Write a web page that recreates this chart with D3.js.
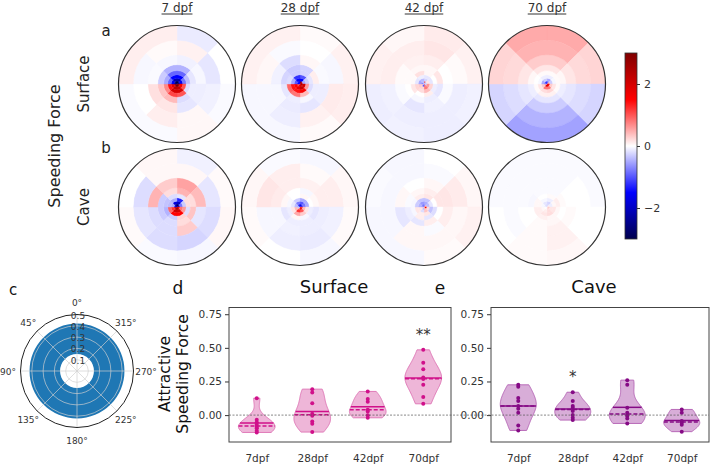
<!DOCTYPE html>
<html><head><meta charset="utf-8">
<script src="https://cdn.jsdelivr.net/npm/d3@7"></script>
<style>body{margin:0;background:#fff;} svg{display:block;font-family:"DejaVu Sans",sans-serif;}</style>
</head><body><svg id="c" width="720" height="475"></svg>
<script>
// ---------- DATA ----------
const ages = ["7 dpf", "28 dpf", "42 dpf", "70 dpf"];
const rows = ["Surface", "Cave"];
const ringEdges = [0, 0.05, 0.1, 0.16, 0.23, 0.33, 0.5, 0.75, 1.0];
// each map: rings inner->outer, 8 sectors clockwise from north
const surface7 = [
  [-3, -2.5, 2.5, 3, 3, 2.5, -2.5, -3],
  [-2.2, -1.6, 1.6, 2.2, 2.3, 1.8, -1.6, -2.2],
  [-1.5, -0.8, 1.0, 2.0, 2.0, 1.4, -0.9, -1.5],
  [-0.9, -0.4, -0.2, 1.0, 1.1, 0.7, -0.5, -0.9],
  [-0.45, -0.15, -0.1, -0.2, 0.4, 0.35, -0.3, -0.45],
  [-0.08, -0.05, -0.1, -0.15, 0.15, 0.18, -0.03, -0.05],
  [0.08, -0.15, -0.08, 0.05, 0.1, 0.0, -0.05, 0.03],
  [-0.12, 0.0, -0.03, 0.05, -0.03, -0.03, 0.1, 0.1]
];
const surface28 = [
  [2.8, 2.0, 2.5, 2.0, 1.5, 1.0, -1.5, -1.5],
  [-1.5, -0.5, 2.0, 2.2, 1.8, 1.5, -1.0, -1.5],
  [-1.0, -0.3, 0.6, 1.6, 1.4, 1.4, -0.5, -1.2],
  [-0.25, -0.15, -0.2, 0.4, 0.8, 0.9, -0.2, -0.3],
  [-0.25, 0.1, -0.1, -0.05, -0.1, -0.15, -0.25, -0.3],
  [0.05, -0.03, -0.1, -0.15, -0.12, -0.05, -0.08, -0.2],
  [0.0, -0.05, 0.12, 0.08, -0.1, -0.05, 0.05, -0.03],
  [0.03, 0.08, 0.1, 0.03, -0.05, -0.05, 0.08, 0.08]
];
const surface42 = [
  [1.0, -0.3, -0.3, 0.8, -1.0, 0.3, -0.7, -0.4],
  [-0.25, 0.15, 0.6, 0.8, 0.25, 0.3, -0.5, -0.4],
  [-0.15, -0.15, 0.25, 0.4, 0.2, 0.25, -0.15, -0.1],
  [0.05, 0.0, -0.1, 0.1, 0.0, 0.15, 0.03, 0.18],
  [0.05, 0.15, -0.15, -0.1, -0.05, 0.0, 0.03, 0.05],
  [0.1, 0.0, -0.03, -0.08, -0.15, -0.03, 0.03, 0.08],
  [0.15, 0.03, -0.1, -0.1, -0.1, -0.08, 0.1, 0.1],
  [0.12, 0.08, -0.08, -0.1, -0.08, -0.1, 0.08, 0.05]
];
const surface70 = [
  [-0.8, 0.5, 1.5, 1.8, 1.8, 0.5, -0.8, -1.2],
  [-0.5, -0.3, 0.3, 0.8, 0.8, 0.3, -0.5, -0.3],
  [-0.1, -0.05, 0.15, 0.25, 0.2, 0.15, -0.05, -0.1],
  [0.03, 0.03, 0.03, 0.08, 0.08, 0.03, 0.0, 0.03],
  [0.15, 0.05, -0.1, -0.15, -0.15, -0.1, 0.05, 0.15],
  [0.3, 0.15, -0.15, -0.3, -0.3, -0.15, 0.15, 0.3],
  [0.45, 0.22, -0.2, -0.45, -0.45, -0.2, 0.22, 0.45],
  [0.5, 0.25, -0.25, -0.55, -0.55, -0.25, 0.25, 0.5]
];
const cave7 = [
  [-3, -2, 1.5, 2.5, 2.5, 2, -1.5, -2.5],
  [-2.0, -0.8, 0.8, 2.0, 2.1, 1.2, -0.5, -1.8],
  [-1.3, -0.3, 0.6, 1.5, 1.5, 0.9, -0.4, -0.5],
  [-0.15, 0.2, -0.2, 0.25, -0.3, -0.45, -0.35, -0.2],
  [0.45, 0.2, 0.35, 0.2, -0.2, -0.3, -0.3, 0.2],
  [0.55, 0.4, -0.15, 0.3, -0.2, -0.2, 0.45, 0.3],
  [0.05, -0.15, -0.2, -0.25, -0.2, -0.15, -0.2, 0.05],
  [-0.08, 0.03, 0.05, -0.05, -0.03, 0.03, 0.0, 0.05]
];
const cave28 = [
  [-1.8, -1.3, 1.2, 1.8, 0.8, -0.3, -0.5, -1.3],
  [-1.0, -0.8, 0.4, 1.0, 1.2, 0.4, -0.4, -0.8],
  [-0.5, -0.5, 0.15, 0.3, 0.5, 0.15, -0.15, -0.3],
  [0.05, 0.0, -0.1, -0.05, 0.05, -0.1, -0.05, 0.0],
  [-0.05, 0.05, -0.15, -0.1, -0.1, -0.15, 0.05, 0.0],
  [0.08, 0.1, -0.1, -0.1, -0.08, -0.05, 0.12, 0.1],
  [0.03, 0.1, -0.08, -0.12, -0.1, -0.05, 0.15, 0.1],
  [-0.05, 0.05, 0.03, -0.05, 0.0, 0.03, 0.05, -0.03]
];
const cave42 = [
  [-0.6, 0.4, 1.6, 0.4, -0.4, 0.2, -0.6, -0.8],
  [-0.5, -0.4, 0.2, 0.35, -0.2, 0.15, -0.45, -0.6],
  [-0.35, -0.15, -0.35, 0.15, 0.1, 0.15, -0.3, -0.35],
  [0.15, 0.0, -0.2, -0.15, 0.1, -0.05, -0.05, 0.1],
  [0.1, 0.15, 0.0, 0.1, -0.15, -0.1, -0.03, 0.05],
  [0.05, 0.15, 0.1, -0.03, 0.05, -0.15, 0.05, 0.0],
  [-0.03, 0.12, 0.05, 0.05, 0.05, -0.05, -0.05, -0.05],
  [0.0, 0.05, 0.08, 0.03, -0.05, -0.05, -0.03, -0.05]
];
const cave70 = [
  [-0.2, 0.1, 0.3, 0.25, 0.05, 0.0, -0.1, -0.2],
  [-0.25, -0.1, 0.15, 0.2, 0.1, 0.05, -0.05, -0.15],
  [-0.1, 0.05, 0.15, 0.2, 0.15, 0.1, 0.05, -0.05],
  [0.03, 0.1, 0.05, 0.05, 0.08, 0.1, 0.05, 0.0],
  [-0.03, 0.03, 0.0, 0.05, 0.03, 0.0, -0.05, -0.03],
  [-0.03, 0.0, 0.03, 0.08, 0.03, 0.0, -0.03, -0.03],
  [-0.03, 0.0, 0.0, 0.08, 0.03, -0.03, -0.03, -0.03],
  [-0.03, -0.03, 0.0, 0.05, 0.03, 0.0, -0.03, -0.03]
];
const surfaceMaps = [surface7, surface28, surface42, surface70];
const caveMaps = [cave7, cave28, cave42, cave70];
const colorbarTicks = [-2, 0, 2];

const polarAngles = [0, 45, 90, 135, 180, 225, 270, 315];
const polarRadii = [0.1, 0.2, 0.3, 0.4, 0.5];
const bandInner = 0.15, bandOuter = 0.42;

const violinCats = ["7dpf", "28dpf", "42dpf", "70dpf"];
const surfacePts = [
  [0.126, -0.035, -0.054, -0.072, -0.089, -0.097, -0.116, -0.129],
  [0.193, 0.168, 0.089, 0.01, -0.005, -0.047, -0.064, -0.126],
  [0.176, 0.119, 0.10, 0.04, 0.027, -0.002, -0.02],
  [0.485, 0.39, 0.34, 0.28, 0.27, 0.27, 0.225, 0.134, 0.084]
];
const cavePts = [
  [0.225, 0.21, 0.128, 0.104, 0.067, 0.047, 0.017, -0.077, -0.114],
  [0.17, 0.104, 0.067, 0.054, 0.03, 0.0, -0.02, -0.037],
  [0.26, 0.225, 0.054, 0.017, 0.0, -0.007, -0.025, -0.062],
  [0.042, 0.017, -0.044, -0.057, -0.072, -0.123]
];
const surfaceSig = ["", "", "", "**"];
const caveSig = ["", "*", "", ""];
const yTicks = [0, 0.25, 0.5, 0.75];

// ---------- DRAW ----------
const svg = d3.select("#c");
const seismic = d3.scaleLinear().domain([-3, -1.5, 0, 1.5, 3])
  .range(["#00004d", "#0000ff", "#ffffff", "#ff0000", "#800000"]).clamp(true);

const hx = [177, 300, 424, 547], hy = [84, 207], R = 58.5;
const rr = d3.scaleLinear().domain([0, 1]).range([0, R]);
const arc = d3.arc();

[surfaceMaps, caveMaps].forEach((maps, ri) => {
  maps.forEach((m, ci) => {
    const g = svg.append("g").attr("transform", `translate(${hx[ci]},${hy[ri]})`);
    const cells = [];
    m.forEach((ring, i) => ring.forEach((v, k) => cells.push({i, k, v})));
    g.selectAll("path.cell").data(cells).join("path").attr("class", "cell")
      .attr("d", d => arc({innerRadius: rr(ringEdges[d.i]), outerRadius: rr(ringEdges[d.i + 1]),
        startAngle: d.k * Math.PI / 4, endAngle: (d.k + 1) * Math.PI / 4}))
      .attr("fill", d => seismic(d.v)).attr("stroke", d => seismic(d.v)).attr("stroke-width", 0.4);
    g.append("circle").attr("r", R).attr("fill", "none").attr("stroke", "#333").attr("stroke-width", 1.2);
  });
});

// column titles
ages.forEach((a, i) => {
  const t = svg.append("text").attr("x", hx[i]).attr("y", 12).attr("text-anchor", "middle")
    .attr("font-size", 12).attr("fill", "#333").text(a);
  const w = t.node().getComputedTextLength();
  svg.append("line").attr("x1", hx[i] - w / 2).attr("x2", hx[i] + w / 2).attr("y1", 14).attr("y2", 14)
    .attr("stroke", "#333").attr("stroke-width", 1);
});
svg.append("text").attr("x", 106).attr("y", 36).attr("text-anchor", "middle").attr("font-size", 15).attr("fill", "#222").text("a");
svg.append("text").attr("x", 106).attr("y", 153).attr("text-anchor", "middle").attr("font-size", 15).attr("fill", "#222").text("b");
rows.forEach((r, i) => {
  svg.append("text").attr("transform", `translate(89,${hy[i]}) rotate(-90)`).attr("text-anchor", "middle")
    .attr("font-size", 15).attr("fill", "#222").text(r);
});
svg.append("text").attr("transform", `translate(60,146) rotate(-90)`).attr("text-anchor", "middle")
  .attr("font-size", 16).attr("fill", "#222").text("Speeding Force");

// colorbar
const cbX = 625, cbW = 12;
const cbY = d3.scaleLinear().domain([-3, 3]).range([239, 53]);
const grad = svg.append("defs").append("linearGradient").attr("id", "cbg")
  .attr("x1", 0).attr("y1", 1).attr("x2", 0).attr("y2", 0);
d3.range(0, 1.0001, 0.05).forEach(t => grad.append("stop").attr("offset", t).attr("stop-color", seismic(-3 + 6 * t)));
svg.append("rect").attr("x", cbX).attr("y", 53).attr("width", cbW).attr("height", 186)
  .attr("fill", "url(#cbg)").attr("stroke", "#333").attr("stroke-width", 0.8);
const cbAxis = svg.append("g").attr("transform", `translate(${cbX + cbW},0)`)
  .call(d3.axisRight(cbY).tickValues(colorbarTicks).tickSize(3).tickPadding(4)
    .tickFormat(d => d < 0 ? "\u2212" + Math.abs(d) : String(d)));
cbAxis.select(".domain").remove();
cbAxis.selectAll("text").attr("font-size", 11).attr("fill", "#333").attr("font-family", "DejaVu Sans");
cbAxis.selectAll("line").attr("stroke", "#333");

// panel c
const pc = {x: 77, y: 371};
const pr = d3.scaleLinear().domain([0, 0.5]).range([0, 56.5]);
const gc = svg.append("g").attr("transform", `translate(${pc.x},${pc.y})`);
gc.append("path").attr("d", arc({innerRadius: pr(bandInner), outerRadius: pr(bandOuter), startAngle: 0, endAngle: 2 * Math.PI}))
  .attr("fill", "#1f77b4");
gc.selectAll("circle.grid").data(polarRadii.slice(0, -1)).join("circle").attr("class", "grid")
  .attr("r", d => pr(d)).attr("fill", "none").attr("stroke", "#d0d0d0").attr("stroke-width", 0.8).attr("opacity", 0.85);
gc.selectAll("line.spoke").data(polarAngles).join("line").attr("class", "spoke")
  .attr("x1", 0).attr("y1", 0)
  .attr("x2", d => -pr(0.5) * Math.sin(d * Math.PI / 180)).attr("y2", d => -pr(0.5) * Math.cos(d * Math.PI / 180))
  .attr("stroke", "#d0d0d0").attr("stroke-width", 0.8).attr("opacity", 0.85);
gc.append("circle").attr("r", pr(0.5)).attr("fill", "none").attr("stroke", "#222").attr("stroke-width", 1);
gc.selectAll("text.rl").data(polarRadii).join("text").attr("class", "rl")
  .attr("x", 1).attr("y", d => -pr(d) + 4).attr("text-anchor", "middle").attr("font-size", 9).attr("fill", "#333")
  .text(d => d.toFixed(1));
gc.selectAll("text.al").data(polarAngles).join("text").attr("class", "al")
  .attr("x", d => -69 * Math.sin(d * Math.PI / 180)).attr("y", d => -69 * Math.cos(d * Math.PI / 180) + 3.5)
  .attr("text-anchor", "middle").attr("font-size", 9).attr("fill", "#333").text(d => d + "\u00b0");
svg.append("text").attr("x", 13).attr("y", 295).attr("text-anchor", "middle").attr("font-size", 15).attr("fill", "#111").text("c");

// violins
const yV = d3.scaleLinear().domain([-0.2, 0.8]).range([442, 307.5]);
function kde(pts) {
  const n = pts.length, sd = d3.deviation(pts), bw = sd * Math.pow(n, -0.2);
  const lo = d3.min(pts), hi = d3.max(pts);
  const f = v => d3.mean(pts, p => Math.exp(-0.5 * ((v - p) / bw) ** 2)) / bw;
  return {f, samples: d3.range(0, 61).map(i => { const v = lo + (hi - lo) * i / 60; return [v, f(v)]; })};
}
const dashX0 = 229, dashX1 = 709;
function violinPanel(pts, sig, box, col, title, letter) {
  const x = d3.scaleLinear().domain([-0.5, 3.5]).range([box.x0, box.x1]);
  const g = svg.append("g");
  const ax = g.append("g").attr("transform", `translate(${box.x0},0)`)
    .call(d3.axisLeft(yV).tickValues(yTicks).tickFormat(d3.format(".2f")).tickSize(4).tickPadding(3));
  ax.select(".domain").remove();
  ax.selectAll("text").attr("font-size", 10.5).attr("fill", "#333").attr("font-family", "DejaVu Sans");
  ax.selectAll("line").attr("stroke", "#333");
  const bx = g.append("g").attr("transform", `translate(0,${yV(-0.2)})`)
    .call(d3.axisBottom(x).tickValues([0, 1, 2, 3]).tickFormat(i => violinCats[i]).tickSize(0).tickPadding(13));
  bx.select(".domain").remove();
  bx.selectAll("text").attr("font-size", 10.5).attr("fill", "#333").attr("font-family", "DejaVu Sans");
  const halfW = 0.33;
  pts.forEach((p, i) => {
    const k = kde(p), mx = d3.max(k.samples, s => s[1]);
    const hw = v => k.f(v) / mx * halfW;
    const area = d3.area().y(s => yV(s[0])).x0(s => x(i - hw(s[0]))).x1(s => x(i + hw(s[0])));
    g.append("path").attr("d", area(k.samples)).attr("fill", col.fill).attr("fill-opacity", 0.55)
      .attr("stroke", col.fill).attr("stroke-width", 1);
    const mean = d3.mean(p), med = d3.median(p);
    g.append("line").attr("x1", x(i - hw(mean))).attr("x2", x(i + hw(mean))).attr("y1", yV(mean)).attr("y2", yV(mean))
      .attr("stroke", col.dot).attr("stroke-width", 1.5);
    g.append("line").attr("x1", x(i - hw(med))).attr("x2", x(i + hw(med))).attr("y1", yV(med)).attr("y2", yV(med))
      .attr("stroke", col.dot).attr("stroke-width", 1.5).attr("stroke-dasharray", "4,2");
    g.selectAll(null).data(p).join("circle").attr("cx", x(i)).attr("cy", d => yV(d)).attr("r", 2)
      .attr("fill", col.dot);
    if (sig[i]) g.append("text").attr("x", x(i)).attr("y", yV(d3.max(p)) - 10).attr("text-anchor", "middle")
      .attr("font-size", 15).attr("fill", "#333").text(sig[i]);
  });
  g.append("rect").attr("x", box.x0).attr("y", yV(0.8)).attr("width", box.x1 - box.x0).attr("height", yV(-0.2) - yV(0.8))
    .attr("fill", "none").attr("stroke", "#444").attr("stroke-width", 1);
  svg.append("text").attr("x", (box.x0 + box.x1) / 2 - 6).attr("y", 293).attr("text-anchor", "middle")
    .attr("font-size", 18).attr("fill", "#111").text(title);
  svg.append("text").attr("x", box.x0 - 51).attr("y", 294).attr("text-anchor", "middle")
    .attr("font-size", 17).attr("fill", "#111").text(letter);
}
violinPanel(surfacePts, surfaceSig, {x0: 229, x1: 451}, {fill: "#e07ab8", dot: "#d0108a"}, "Surface", "d");
violinPanel(cavePts, caveSig, {x0: 491, x1: 709}, {fill: "#b86ab8", dot: "#850a85"}, "Cave", "e");
svg.append("line").attr("x1", dashX0).attr("x2", dashX1).attr("y1", yV(0)).attr("y2", yV(0))
  .attr("stroke", "#555").attr("stroke-width", 0.7).attr("stroke-dasharray", "2,1.5");
svg.append("text").attr("transform", "translate(170,374) rotate(-90)").attr("text-anchor", "middle")
  .attr("font-size", 15.5).attr("fill", "#111").text("Attractive");
svg.append("text").attr("transform", "translate(188,374) rotate(-90)").attr("text-anchor", "middle")
  .attr("font-size", 15.5).attr("fill", "#111").text("Speeding Force");
</script></body></html>
